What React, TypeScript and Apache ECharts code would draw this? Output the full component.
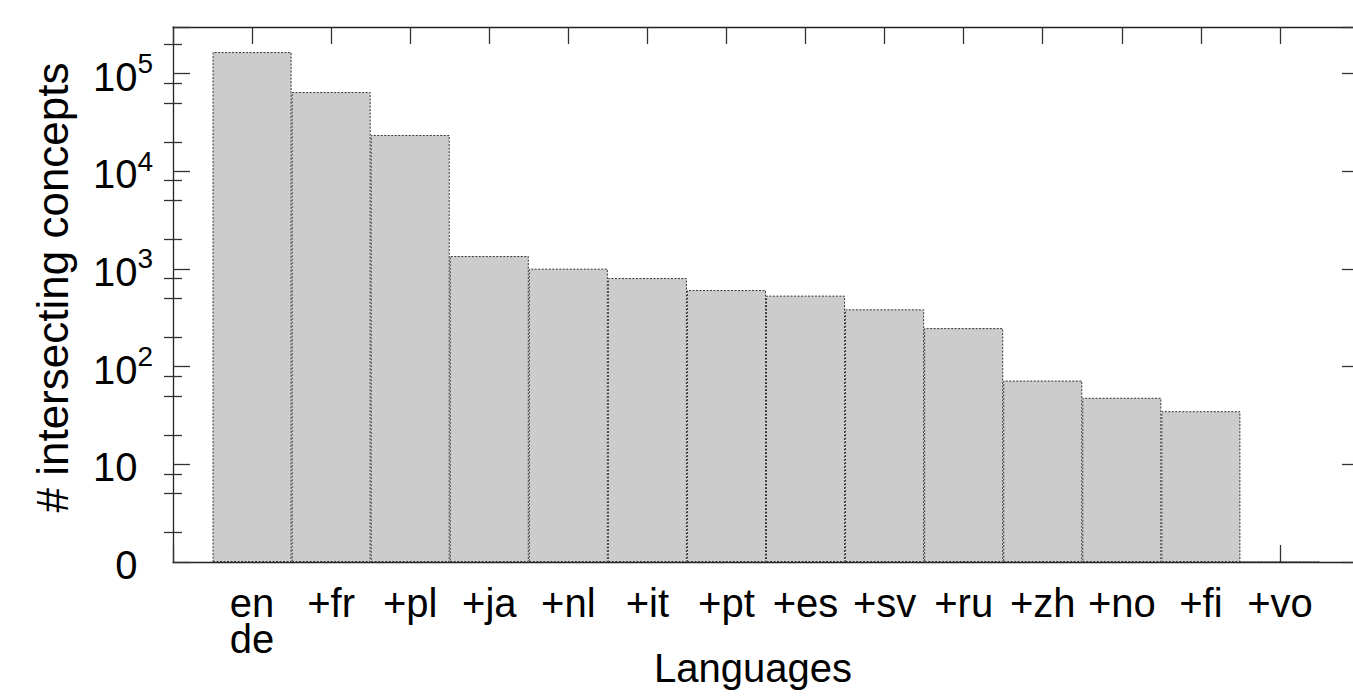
import React, { useEffect, useRef } from 'react';
import * as echarts from 'echarts';

const FONT = '"Liberation Sans", Arial, Helvetica, sans-serif';

// Categories (x axis tick labels)
const categories = ['en\nde', '+fr', '+pl', '+ja', '+nl', '+it', '+pt', '+es', '+sv', '+ru', '+zh', '+no', '+fi', '+vo'];
// Number of intersecting concepts per cumulative language set
const conceptCounts = [166000, 64700, 23500, 1355, 1007, 807, 608, 533, 386, 248, 72, 48, 35, 0];
// Y axis range and tick structure
const yRange = [1, 300000];
const decadeExponents = [0, 1, 2, 3, 4, 5];
const minorMultipliers = [2, 5, 8];

function yTickLabel(v: number): string {
  const lg = Math.log10(v);
  const e = Math.round(lg);
  if (Math.abs(lg - e) > 1e-6) return '';
  if (e === 0) return '{b|0}{p|0}';
  if (e === 1) return '{b|10}{p|0}';
  return `{b|10}{s|${e}}`;
}

export default function App() {
  const ref = useRef<HTMLDivElement>(null);
  useEffect(() => {
    if (!ref.current) return;
    const chart = echarts.init(ref.current, undefined, { renderer: 'svg' });
    const gridLeft = 173;
    const gridTop = 27;
    const gridWidth = 1186;
    const gridHeight = 535;
    const xMax = categories.length + 1;
    const barWidth = gridWidth / xMax;
    const logMax = Math.log10(yRange[1]);
    const minorTicks = decadeExponents
      .flatMap((d) => minorMultipliers.map((m) => d + Math.log10(m)))
      .filter((t) => t < logMax);

    const axisLine = { show: true, onZero: false, lineStyle: { color: '#222', width: 1.3 } };
    const tickStyle = { color: '#333', width: 1.3 };
    const textBase = { color: '#000', fontFamily: FONT };

    chart.setOption({
      animation: false,
      grid: {
        left: gridLeft,
        top: gridTop,
        width: gridWidth,
        height: gridHeight,
        containLabel: false,
        outerBoundsMode: 'none',
      },
      xAxis: [
        {
          type: 'value',
          min: 0,
          max: xMax,
          interval: 1,
          position: 'bottom',
          axisLine,
          axisTick: { show: true, inside: true, length: 17, lineStyle: tickStyle },
          axisLabel: {
            show: true,
            ...textBase,
            fontSize: 40,
            lineHeight: 36,
            margin: 23,
            hideOverlap: false,
            formatter: (v: number) => categories[Math.round(v) - 1] ?? '',
          },
          splitLine: { show: false },
          name: 'Languages',
          nameLocation: 'middle',
          nameGap: 86,
          nameMoveOverlap: false,
          nameTextStyle: { ...textBase, fontSize: 40, lineHeight: 40, padding: [0, 26, 0, 0] },
        },
        {
          type: 'value',
          min: 0,
          max: xMax,
          interval: 1,
          position: 'top',
          axisLine,
          axisTick: { show: true, inside: true, length: 17, lineStyle: tickStyle },
          axisLabel: { show: false },
          splitLine: { show: false },
        },
      ],
      yAxis: [
        {
          type: 'log',
          logBase: 10,
          min: yRange[0],
          max: yRange[1],
          position: 'left',
          axisLine,
          axisTick: { show: true, inside: true, length: 17, lineStyle: tickStyle },
          axisLabel: {
            show: true,
            ...textBase,
            fontSize: 40,
            margin: 20,
            padding: [6, 0, 0, 0],
            formatter: yTickLabel,
            rich: {
              b: { ...textBase, fontSize: 40, lineHeight: 54 },
              s: { ...textBase, fontSize: 28, lineHeight: 28, verticalAlign: 'top' },
              p: { ...textBase, color: 'rgba(0,0,0,0)', fontSize: 28, lineHeight: 28, verticalAlign: 'top' },
            },
          },
          splitLine: { show: false },
          name: '# intersecting concepts',
          nameLocation: 'middle',
          nameGap: 99,
          nameMoveOverlap: false,
          nameTextStyle: { ...textBase, fontSize: 44, lineHeight: 44, padding: [0, 0, 0, 14] },
        },
        {
          type: 'log',
          logBase: 10,
          min: yRange[0],
          max: yRange[1],
          position: 'right',
          axisLine,
          axisTick: { show: true, inside: true, length: 17, lineStyle: tickStyle },
          axisLabel: { show: false },
          splitLine: { show: false },
        },
        {
          type: 'value',
          min: 0,
          max: logMax,
          position: 'left',
          axisLine: { show: false },
          axisTick: { show: true, inside: true, length: 9, lineStyle: tickStyle, customValues: minorTicks },
          axisLabel: { show: false },
          splitLine: { show: false },
        },
        {
          type: 'value',
          min: 0,
          max: logMax,
          position: 'right',
          axisLine: { show: false },
          axisTick: { show: true, inside: true, length: 9, lineStyle: tickStyle, customValues: minorTicks },
          axisLabel: { show: false },
          splitLine: { show: false },
        },
      ],
      series: [
        {
          type: 'bar',
          xAxisIndex: 0,
          yAxisIndex: 0,
          barWidth,
          data: conceptCounts.map((v, i) => [i + 1, Math.max(v, yRange[0])]),
          itemStyle: {
            color: '#cccccc',
            borderColor: '#333',
            borderWidth: 1,
            borderType: [2, 1.5],
          },
        },
      ],
    });
    return () => chart.dispose();
  }, []);
  return (
    <div
      ref={ref}
      style={{ position: 'absolute', left: 0, top: 0, width: 1353, height: 696, background: '#fff' }}
    />
  );
}
